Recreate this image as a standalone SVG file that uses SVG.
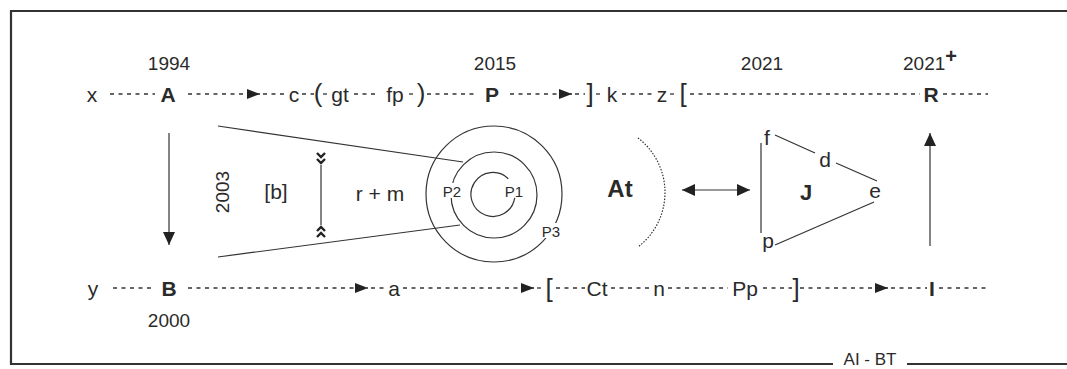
<svg xmlns="http://www.w3.org/2000/svg" width="1067" height="369" viewBox="0 0 1067 369">
<style>
text{font-family:"Liberation Sans",Arial,sans-serif;fill:#2a2a2a}
.lb{font-size:21px;text-anchor:middle}
.bd{font-size:21px;font-weight:bold;text-anchor:middle}
.yr{font-size:19px;text-anchor:middle}
.br{font-size:26px;text-anchor:middle}
.sm{font-size:15px;text-anchor:middle}
.dash{stroke:#333;stroke-width:1.3;stroke-dasharray:4 4.5;fill:none}
.ln{stroke:#333;stroke-width:1.2;fill:none}
.chev{stroke:#222;stroke-width:2.4;fill:none}
.frame{stroke:#333;stroke-width:2.2;fill:none}
</style>
<defs>
<marker id="ah" markerUnits="userSpaceOnUse" markerWidth="14" markerHeight="11" refX="13" refY="5" orient="auto"><path d="M0,0 L13,5 L0,10 z" fill="#222"/></marker>
<marker id="ahs" markerUnits="userSpaceOnUse" markerWidth="14" markerHeight="13" refX="13" refY="6" orient="auto-start-reverse"><path d="M0,0 L13,6 L0,12 z" fill="#222"/></marker>
</defs>
<rect width="1067" height="369" fill="#fff"/>
<g id="frame">
<path class="frame" d="M1067,11 H11 V364 H833"/>
<path class="frame" d="M907,364 H1067"/>
<text x="870" y="365" style="font-size:17px;text-anchor:middle">AI - BT</text>
</g>
<g id="connectors">
<path class="dash" d="M110,94 H155"/>
<path class="dash" d="M188,94 H260" marker-end="url(#ah)"/>
<path class="dash" d="M263,94 H287"/>
<path class="dash" d="M302,94 H314"/>
<path class="dash" d="M323,94 H328"/>
<path class="dash" d="M354,94 H378"/>
<path class="dash" d="M409,94 H416"/>
<path class="dash" d="M427,94 H476"/>
<path class="dash" d="M510,94 H572" marker-end="url(#ah)"/>
<path class="dash" d="M575,94 H585"/>
<path class="dash" d="M596,94 H604"/>
<path class="dash" d="M622,94 H654"/>
<path class="dash" d="M670,94 H677"/>
<path class="dash" d="M690,94 H920"/>
<path class="dash" d="M943,94 H988"/>
<path class="dash" d="M113,288 H155"/>
<path class="dash" d="M188,288 H368" marker-end="url(#ah)"/>
<path class="dash" d="M371,288 H386"/>
<path class="dash" d="M403,288 H534" marker-end="url(#ah)"/>
<path class="dash" d="M537,288 H545"/>
<path class="dash" d="M556,288 H585"/>
<path class="dash" d="M611,288 H652"/>
<path class="dash" d="M668,288 H728"/>
<path class="dash" d="M763,288 H792"/>
<path class="dash" d="M800,288 H888" marker-end="url(#ah)"/>
<path class="dash" d="M891,288 H927"/>
<path class="dash" d="M939,288 H988"/>
<path class="ln" d="M169,133 V245" marker-end="url(#ahs)"/>
<path class="ln" d="M930,246 V133" marker-end="url(#ahs)"/>
<path class="ln" d="M682,190 H750" marker-start="url(#ahs)" marker-end="url(#ahs)"/>
<path class="ln" d="M218,126 L463,162"/>
<path class="ln" d="M218,257 L460,225"/>
<path class="ln" d="M321,165 V225"/>
<path class="chev" d="M317,153 L321,157 L325,153 M317,159 L321,163 L325,159"/>
<path class="chev" d="M317,237 L321,233 L325,237 M317,231 L321,227 L325,231"/>
<path class="ln" d="M761,143 V233"/>
<path class="ln" d="M775,135 L815,153"/>
<path class="ln" d="M836,163 L877,181"/>
<path class="ln" d="M874,202 L775,245"/>
</g>
<g id="top-row">
<text class="yr" x="169" y="70">1994</text>
<text class="yr" x="495" y="70">2015</text>
<text class="yr" x="762" y="70">2021</text>
<text class="yr" x="903" y="70" style="text-anchor:start">2021<tspan dy="-7" style="font-weight:bold;font-size:20px">+</tspan></text>
<text class="lb" x="92" y="102">x</text>
<text id="A" class="bd" x="168" y="102">A</text>
<text class="lb" x="294" y="102">c</text>
<text class="br" x="318" y="102">(</text>
<text class="lb" x="340" y="102">gt</text>
<text class="lb" x="395" y="102">fp</text>
<text class="br" x="421" y="102">)</text>
<text id="P" class="bd" x="492" y="102">P</text>
<text class="br" x="590" y="102">]</text>
<text class="lb" x="612" y="102">k</text>
<text class="lb" x="662" y="102">z</text>
<text class="br" x="683" y="102">[</text>
<text id="R" class="bd" x="931" y="102">R</text>
</g>
<g id="bottom-row">
<text class="lb" x="93" y="296">y</text>
<text id="B" class="bd" x="169" y="296">B</text>
<text class="yr" x="169" y="327">2000</text>
<text class="lb" x="394" y="296">a</text>
<text class="br" x="549" y="297">[</text>
<text class="lb" x="597" y="296">Ct</text>
<text class="lb" x="659" y="296">n</text>
<text class="lb" x="745" y="296">Pp</text>
<text class="br" x="796" y="297">]</text>
<text id="I" class="bd" x="932" y="296">I</text>
</g>
<g id="fan">
<text class="yr" transform="translate(229,192) rotate(-90)">2003</text>
<text class="lb" x="276" y="199">[b]</text>
<text class="lb" x="380" y="201">r + m</text>
</g>
<g id="circles">
<circle class="ln" cx="494" cy="194" r="68"/>
<circle class="ln" cx="494" cy="195" r="43" stroke-width="1.6"/>
<path class="ln" stroke-width="2.6" d="M508.3,178.7 A22,22 0 1 0 514.7,197.9"/>
<rect x="442" y="183" width="20" height="15" fill="#fff"/>
<rect x="541" y="223" width="20" height="15" fill="#fff"/>
<text class="sm" x="452" y="197">P2</text>
<text class="sm" x="514" y="197">P1</text>
<text class="sm" x="551" y="237">P3</text>
</g>
<g id="At">
<path d="M638,138 A68.5,68.5 0 0 1 638,247" fill="none" stroke="#333" stroke-width="1.2" stroke-dasharray="1.5 1.5"/>
<text x="620" y="197" style="font-size:24px;font-weight:bold;text-anchor:middle">At</text>
</g>
<g id="J">
<text class="lb" x="767" y="145">f</text>
<text class="lb" x="825" y="167">d</text>
<text class="lb" x="875" y="198">e</text>
<text class="lb" x="768" y="248">p</text>
<text class="bd" x="806" y="200" style="font-size:22px">J</text>
</g>
</svg>
